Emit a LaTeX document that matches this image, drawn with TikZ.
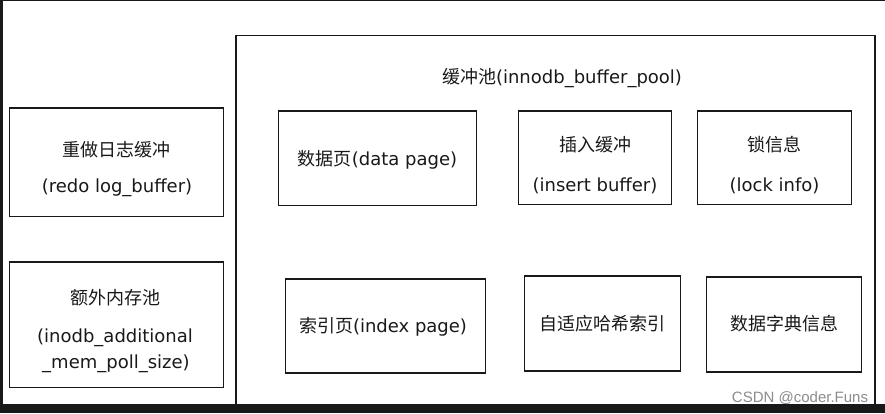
\documentclass[tikz,border=0pt]{standalone}
\usepackage{fontspec}
\setmainfont{DejaVu Sans}
\newfontfamily\cjk{Noto Sans CJK SC}
\newfontfamily\wmfont{Liberation Sans}
\usetikzlibrary{positioning}

\tikzset{
  box/.style={draw=black!90,line width=1.8pt,rectangle,inner sep=0pt,outer sep=0pt},
  txt/.style={text=black!90,font=\fontsize{18}{22}\selectfont,inner sep=0pt},
}

\begin{document}
\begin{tikzpicture}[x=1pt,y=-1pt]
\useasboundingbox (0,0) rectangle (885,413);
\fill[white] (0,0) rectangle (885,413);

% buffer pool
\node[box,line width=1.4pt,minimum width=639pt,minimum height=374pt,anchor=north west] (pool) at (236,35.5) {};
\node[txt] (pool-t) at (562,78) {{\cjk 缓冲池}(innodb\_buffer\_pool)};

% upper row
\node[box,minimum width=198pt,minimum height=94.5pt] (data) at (377.5,158.25) {};
\node[txt] (data-t) at (377.5,160) {{\cjk 数据页}(data page)};

\node[box,minimum width=153pt,minimum height=93.5pt] (insert) at (595,157.75) {};
\node[txt] (insert-cn) at (595,145) {\cjk 插入缓冲};
\node[txt] (insert-en) at (595,186) {(insert buffer)};

\node[box,minimum width=154pt,minimum height=93.5pt] (lock) at (774.5,157.75) {};
\node[txt] (lock-cn) at (774.5,145) {\cjk 锁信息};
\node[txt] (lock-en) at (774.5,186) {(lock info)};

% lower row
\node[box,minimum width=200pt,minimum height=94pt] (index) at (385.5,326) {};
\node[txt] (index-t) at (383,327) {{\cjk 索引页}(index page)};

\node[box,minimum width=156pt,minimum height=95pt] (hash) at (602.5,323.5) {};
\node[txt] (hash-t) at (602.5,324) {\cjk 自适应哈希索引};

\node[box,minimum width=155pt,minimum height=95pt] (dict) at (784,324.5) {};
\node[txt] (dict-t) at (784,324) {\cjk 数据字典信息};

% left column
\node[box,minimum width=214pt,minimum height=108.5pt] (redo) at (116.5,162.25) {};
\node[txt] (redo-cn) at (116,150) {\cjk 重做日志缓冲};
\node[txt] (redo-en) at (117,188) {(redo log\_buffer)};

\node[box,minimum width=214pt,minimum height=125.5pt] (extra) at (116.5,324.75) {};
\node[txt] (extra-cn) at (115,298) {\cjk 额外内存池};
\node[txt] (extra-en1) at (115,338) {(inodb\_additional};
\node[txt] (extra-en2) at (116,364) {\_mem\_poll\_size)};

% watermark
\node[text=black!45,font=\wmfont\fontsize{15}{18}\selectfont,inner sep=0pt] (mark) at (800,398) {CSDN @coder.Funs};

% dark frame
\fill[black!90] (0,0) rectangle (3,413);
\fill[black!90] (0,0) rectangle (885,1);
\fill[black!90] (0,404) rectangle (885,413);

\end{tikzpicture}
\end{document}
